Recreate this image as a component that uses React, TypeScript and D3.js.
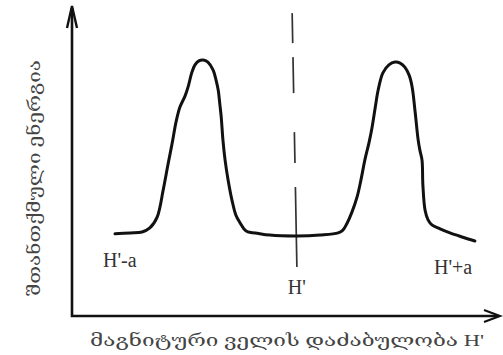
import React from "react";
import * as d3 from "d3";

// Field (arbitrary units, 0..100 along the x axis) and absorbed energy (0..100)
const fieldValues = [
  10.0, 13.5, 16.3, 18.1, 19.8, 21.2, 22.3, 23.3, 24.2, 25.1, 26.3, 27.0, 27.9, 28.6, 29.5, 30.5,
  31.6, 32.8, 33.5, 34.0, 34.4, 34.7, 35.1, 35.6, 36.3, 37.2, 38.1, 39.1, 40.0, 40.9, 42.6, 46.0,
  52.3, 57.7, 61.9, 63.0, 64.0, 65.1, 66.3, 67.2, 68.1, 69.1, 69.8, 70.5, 71.2, 72.3, 73.7, 75.1,
  76.3, 77.4, 78.4, 79.1, 79.8, 80.5, 80.9, 81.4, 81.6, 82.1, 82.8, 83.7, 85.6, 87.9, 90.7, 93.7,
];
const energyValues = [
  26.5, 26.8, 27.1, 28.4, 31.9, 40.6, 48.7, 55.8, 62.6, 67.4, 71.0, 73.9, 78.7, 81.0, 82.3, 82.6,
  81.9, 79.4, 76.1, 72.9, 68.1, 64.2, 56.8, 50.3, 43.9, 37.4, 32.6, 30.0, 28.1, 27.1, 26.8, 26.1,
  25.8, 26.1, 26.8, 27.7, 30.0, 33.5, 38.4, 43.9, 50.3, 56.1, 61.0, 67.1, 72.9, 78.4, 81.0, 81.9,
  81.6, 80.3, 77.7, 73.9, 65.8, 56.8, 53.5, 50.3, 42.3, 34.2, 31.0, 29.4, 28.1, 26.8, 25.5, 24.2,
];

// Centre line H' (field at top and bottom of the dashed mark, energy range)
const centreField = [51.2, 52.3];
const centreEnergy = [97.7, 15.8];

// Field labels
const fieldLabels = ["H'-a", "H'", "H'+a"];
const fieldLabelX = [7.2, 52.3, 84.2];
const fieldLabelY = [15.8, 7.1, 13.5];

const yTitle = "შთანთქმული ენერგია";
const xTitle = "მაგნიტური ველის დაძაბულობა H'";

const W = 503;
const H = 355;

export default function App() {
  const x = d3.scaleLinear().domain([0, 100]).range([72, 502]);
  const y = d3.scaleLinear().domain([0, 100]).range([316, 6]);

  const pts: [number, number][] = fieldValues.map((f, i) => [f, energyValues[i]]);
  const line = d3
    .line<[number, number]>()
    .x((d) => x(d[0]))
    .y((d) => y(d[1]))
    .curve(d3.curveCatmullRom.alpha(0.5));

  const x0 = x(0);
  const y0 = y(0);
  const yTop = 6;
  const xEnd = 500;

  const serif = "'Liberation Serif', 'DejaVu Serif', 'DejaVu Sans', serif";

  return (
    <svg
      width={W}
      height={H}
      style={{ position: "absolute", left: 0, top: 0, background: "#fff" }}
    >
      {/* axes */}
      <path
        d={`M${x0},${yTop + 2} L${x0},${y0} L${xEnd - 2},${y0}`}
        fill="none"
        stroke="#111"
        strokeWidth={2.6}
      />
      {/* y arrow */}
      <path
        d={`M${x0 - 5},${yTop + 22} L${x0},${yTop} L${x0 + 5},${yTop + 22}`}
        fill="none"
        stroke="#111"
        strokeWidth={2.4}
        strokeLinejoin="miter"
      />
      {/* x arrow */}
      <path
        d={`M${xEnd - 16},${y0 - 6} L${xEnd},${y0} L${xEnd - 16},${y0 + 6}`}
        fill="none"
        stroke="#111"
        strokeWidth={2.2}
      />

      {/* centre dashed line */}
      <line
        x1={x(centreField[0])}
        y1={y(centreEnergy[0])}
        x2={x(centreField[1])}
        y2={y(centreEnergy[1])}
        stroke="#333"
        strokeWidth={1.7}
        strokeDasharray="30 14 36 39 31 24 80"
      />

      {/* curve */}
      <path
        d={line(pts) || ""}
        fill="none"
        stroke="#111"
        strokeWidth={3}
        strokeLinejoin="round"
        strokeLinecap="round"
      />

      {/* field labels */}
      {fieldLabels.map((t, i) => (
        <text
          key={t}
          x={x(fieldLabelX[i])}
          y={y(fieldLabelY[i])}
          textAnchor={i === 1 ? "middle" : "start"}
          fontFamily={serif}
          fontSize={20}
          fill="#333"
        >
          {t}
        </text>
      ))}

      {/* axis titles */}
      <text
        x={x(50)}
        y={346}
        textAnchor="middle"
        fontFamily={serif}
        fontSize={17}
        fill="#444"
        textLength={394}
        lengthAdjust="spacingAndGlyphs"
      >
        {xTitle}
      </text>
      <text
        transform={`translate(40,${178}) rotate(-90)`}
        textAnchor="middle"
        fontFamily={serif}
        fontSize={17}
        fill="#444"
        textLength={236}
        lengthAdjust="spacingAndGlyphs"
      >
        {yTitle}
      </text>
    </svg>
  );
}
